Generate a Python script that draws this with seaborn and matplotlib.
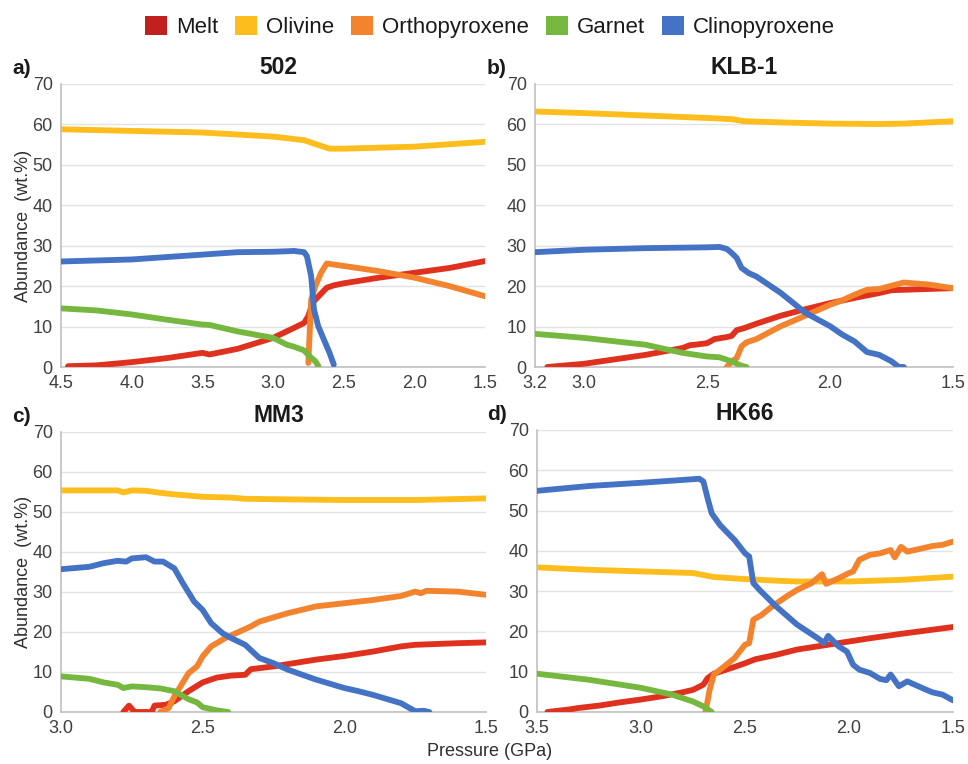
import matplotlib
matplotlib.use("Agg")
import matplotlib.pyplot as plt
import seaborn as sns
import pandas as pd
from matplotlib.patches import Patch

sns.set_theme(style="white")
plt.rcParams['font.family'] = ['Liberation Sans', 'DejaVu Sans']

phases = ["Melt", "Olivine", "Orthopyroxene", "Garnet", "Clinopyroxene"]
colors = ["#e0301e", "#fdbd1c", "#f4832e", "#76b83f", "#4472c4"]
legend_colors = ["#c0211f", "#fdbd1c", "#f4832e", "#76b83f", "#4472c4"]

# ---- Panel a) 502 ----
a_melt_p = [4.45, 4.25, 4.0, 3.75, 3.5, 3.45, 3.25, 3.0, 2.85, 2.78, 2.75, 2.72, 2.68, 2.62, 2.57, 2.5, 2.25, 2.0, 1.75, 1.5]
a_melt_v = [0.2, 0.4, 1.2, 2.2, 3.5, 3.1, 4.5, 7.2, 9.7, 10.9, 12.6, 15.9, 17.4, 19.6, 20.2, 20.7, 22.1, 23.3, 24.5, 26.2]
a_oli_p = [4.5, 3.5, 3.0, 2.78, 2.73, 2.6, 2.5, 2.0, 1.5]
a_oli_v = [58.8, 58.0, 57.0, 56.1, 55.5, 54.0, 54.0, 54.5, 55.7]
a_opx_p = [2.75, 2.73, 2.7, 2.66, 2.62, 2.5, 2.25, 2.0, 1.75, 1.5]
a_opx_v = [1.0, 16.7, 20.0, 23.3, 25.6, 25.0, 23.7, 22.1, 20.0, 17.5]
a_grt_p = [4.5, 4.25, 4.0, 3.75, 3.5, 3.45, 3.25, 3.0, 2.9, 2.85, 2.78, 2.74, 2.7, 2.68]
a_grt_v = [14.5, 14.0, 13.0, 11.7, 10.5, 10.4, 8.8, 7.2, 5.5, 5.0, 4.1, 2.6, 1.4, 0.3]
a_cpx_p = [4.5, 4.0, 3.75, 3.5, 3.25, 3.0, 2.85, 2.78, 2.76, 2.73, 2.71, 2.68, 2.65, 2.6, 2.57]
a_cpx_v = [26.1, 26.6, 27.2, 27.8, 28.4, 28.5, 28.7, 28.4, 27.4, 22.5, 14.2, 10.1, 7.6, 3.5, 0.6]

# ---- Panel b) KLB-1 ----
b_melt_p = [3.15, 3.0, 2.75, 2.6, 2.57, 2.55, 2.5, 2.47, 2.42, 2.4, 2.38, 2.35, 2.3, 2.2, 2.1, 2.0, 1.9, 1.8, 1.75, 1.7, 1.5]
b_melt_v = [0.0, 0.8, 3.0, 4.7, 5.4, 5.5, 5.9, 6.9, 7.4, 7.7, 9.1, 9.6, 10.7, 12.7, 14.3, 15.8, 17.1, 18.3, 19.0, 19.1, 19.5]
b_oli_p = [3.2, 3.0, 2.75, 2.5, 2.4, 2.35, 2.2, 2.0, 1.8, 1.7, 1.5]
b_oli_v = [63.2, 62.8, 62.2, 61.6, 61.3, 60.8, 60.5, 60.2, 60.1, 60.2, 60.8]
b_opx_p = [2.42, 2.4, 2.38, 2.36, 2.34, 2.3, 2.2, 2.1, 2.0, 1.95, 1.9, 1.85, 1.8, 1.75, 1.7, 1.6, 1.5]
b_opx_v = [0.0, 1.4, 2.2, 5.1, 6.1, 6.9, 10.1, 12.7, 15.4, 16.5, 17.9, 19.1, 19.3, 20.1, 20.9, 20.4, 19.5]
b_grt_p = [3.2, 3.0, 2.75, 2.6, 2.5, 2.45, 2.4, 2.36, 2.34]
b_grt_v = [8.2, 7.2, 5.5, 3.5, 2.6, 2.4, 1.4, 0.3, 0.0]
b_cpx_p = [3.2, 3.0, 2.75, 2.5, 2.45, 2.42, 2.4, 2.38, 2.36, 2.33, 2.3, 2.2, 2.1, 2.0, 1.95, 1.9, 1.85, 1.8, 1.75, 1.72, 1.7]
b_cpx_v = [28.4, 29.0, 29.4, 29.6, 29.7, 29.2, 28.2, 27.0, 24.5, 23.2, 22.4, 18.3, 13.4, 10.1, 8.0, 6.3, 3.7, 3.0, 1.4, 0.0, 0.0]

# ---- Panel c) MM3 ----
c_melt_p = [2.78, 2.76, 2.74, 2.7, 2.68, 2.67, 2.63, 2.6, 2.55, 2.5, 2.45, 2.4, 2.35, 2.33, 2.25, 2.1, 2.0, 1.9, 1.8, 1.75, 1.6, 1.5]
c_melt_v = [0.0, 1.6, 0.0, 0.0, 0.0, 1.6, 1.8, 2.7, 5.2, 7.4, 8.6, 9.1, 9.3, 10.7, 11.4, 13.1, 14.0, 15.1, 16.4, 16.8, 17.2, 17.4]
c_oli_p = [3.0, 2.8, 2.78, 2.75, 2.7, 2.65, 2.6, 2.5, 2.4, 2.35, 2.25, 2.0, 1.75, 1.5]
c_oli_v = [55.4, 55.4, 54.9, 55.4, 55.3, 54.8, 54.4, 53.8, 53.6, 53.3, 53.2, 53.0, 53.0, 53.4]
c_opx_p = [2.65, 2.62, 2.6, 2.55, 2.52, 2.5, 2.47, 2.42, 2.37, 2.33, 2.3, 2.2, 2.1, 2.0, 1.9, 1.8, 1.75, 1.73, 1.71, 1.6, 1.5]
c_opx_v = [0.0, 1.0, 3.9, 9.7, 11.4, 13.9, 16.4, 18.5, 20.1, 21.4, 22.6, 24.7, 26.4, 27.2, 28.0, 29.0, 30.1, 29.7, 30.3, 30.1, 29.3]
c_grt_p = [3.0, 2.9, 2.85, 2.8, 2.78, 2.75, 2.7, 2.65, 2.6, 2.55, 2.52, 2.5, 2.45, 2.41]
c_grt_v = [8.9, 8.3, 7.4, 6.8, 6.0, 6.4, 6.2, 5.9, 5.2, 3.2, 2.4, 1.2, 0.4, 0.0]
c_cpx_p = [3.0, 2.9, 2.85, 2.8, 2.77, 2.75, 2.7, 2.67, 2.64, 2.6, 2.57, 2.53, 2.5, 2.47, 2.43, 2.4, 2.35, 2.3, 2.25, 2.2, 2.1, 2.0, 1.95, 1.9, 1.8, 1.75, 1.72, 1.7]
c_cpx_v = [35.7, 36.3, 37.2, 37.8, 37.6, 38.4, 38.7, 37.6, 37.6, 35.9, 32.2, 27.6, 25.5, 22.2, 19.7, 18.5, 16.8, 13.5, 12.2, 10.6, 8.1, 6.0, 5.2, 4.3, 2.2, 0.2, 0.3, 0.0]

# ---- Panel d) HK66 ----
d_melt_p = [3.45, 3.35, 3.3, 3.2, 3.1, 3.0, 2.9, 2.8, 2.75, 2.7, 2.68, 2.65, 2.55, 2.5, 2.45, 2.35, 2.25, 2.1, 2.0, 1.9, 1.75, 1.5]
d_melt_v = [0.0, 0.6, 1.0, 1.6, 2.4, 3.1, 3.9, 4.9, 5.5, 6.8, 8.4, 9.5, 11.2, 12.1, 13.1, 14.2, 15.5, 16.7, 17.5, 18.3, 19.4, 21.1]
d_oli_p = [3.5, 3.25, 3.0, 2.75, 2.7, 2.65, 2.5, 2.35, 2.25, 2.0, 1.75, 1.5]
d_oli_v = [35.9, 35.3, 34.9, 34.5, 34.0, 33.5, 33.0, 32.6, 32.4, 32.4, 32.8, 33.6]
d_opx_p = [2.69, 2.67, 2.65, 2.6, 2.55, 2.5, 2.48, 2.46, 2.42, 2.37, 2.3, 2.25, 2.18, 2.13, 2.11, 2.05, 2.0, 1.98, 1.95, 1.9, 1.85, 1.8, 1.78, 1.75, 1.72, 1.65, 1.6, 1.55, 1.5]
d_opx_v = [0.0, 5.5, 9.3, 11.3, 13.4, 16.7, 17.1, 22.9, 24.1, 26.2, 28.7, 30.3, 32.0, 34.2, 31.8, 33.2, 34.5, 34.9, 37.8, 39.0, 39.4, 40.2, 38.4, 41.0, 39.8, 40.6, 41.2, 41.5, 42.3]
d_grt_p = [3.5, 3.25, 3.0, 2.85, 2.75, 2.7, 2.66]
d_grt_v = [9.5, 8.0, 6.0, 4.3, 2.6, 1.4, 0.0]
d_cpx_p = [3.5, 3.25, 3.0, 2.8, 2.72, 2.7, 2.68, 2.66, 2.62, 2.55, 2.5, 2.48, 2.46, 2.43, 2.35, 2.25, 2.15, 2.12, 2.1, 2.05, 2.01, 1.98, 1.95, 1.9, 1.85, 1.82, 1.8, 1.76, 1.72, 1.65, 1.6, 1.55, 1.5]
d_cpx_v = [54.9, 56.1, 56.9, 57.6, 57.9, 57.2, 53.1, 49.3, 46.4, 42.7, 39.4, 38.6, 32.0, 30.3, 26.2, 21.7, 18.3, 17.1, 18.9, 16.3, 15.0, 11.7, 10.5, 9.7, 8.2, 7.9, 9.3, 6.4, 7.6, 6.0, 4.9, 4.3, 2.9]

panels = [
    ("a)", "502", [(a_melt_p, a_melt_v), (a_oli_p, a_oli_v), (a_opx_p, a_opx_v), (a_grt_p, a_grt_v), (a_cpx_p, a_cpx_v)],
     (4.5, 1.5), [4.5, 4.0, 3.5, 3.0, 2.5, 2.0, 1.5]),
    ("b)", "KLB-1", [(b_melt_p, b_melt_v), (b_oli_p, b_oli_v), (b_opx_p, b_opx_v), (b_grt_p, b_grt_v), (b_cpx_p, b_cpx_v)],
     (3.2, 1.5), [3.2, 3.0, 2.5, 2.0, 1.5]),
    ("c)", "MM3", [(c_melt_p, c_melt_v), (c_oli_p, c_oli_v), (c_opx_p, c_opx_v), (c_grt_p, c_grt_v), (c_cpx_p, c_cpx_v)],
     (3.0, 1.5), [3.0, 2.5, 2.0, 1.5]),
    ("d)", "HK66", [(d_melt_p, d_melt_v), (d_oli_p, d_oli_v), (d_opx_p, d_opx_v), (d_grt_p, d_grt_v), (d_cpx_p, d_cpx_v)],
     (3.5, 1.5), [3.5, 3.0, 2.5, 2.0, 1.5]),
]

W, H = 968, 764
fig = plt.figure(figsize=(W / 100, H / 100), dpi=100)
boxes = [(61, 84, 485, 367), (535, 84, 953, 367), (61, 432, 486, 712), (537, 430, 953, 712)]
letter_px = [12, 487, 12, 487]

for (letter, title, series, xlim, xticks), (l, t, r, b), lx in zip(panels, boxes, letter_px):
    ax = fig.add_axes([l / W, (H - b) / H, (r - l) / W, (b - t) / H])
    rows = []
    for ph, (p, v) in zip(phases, series):
        for pi, vi in zip(p, v):
            rows.append({"Pressure": pi, "Abundance": vi, "Phase": ph})
    df = pd.DataFrame(rows)
    sns.lineplot(data=df, x="Pressure", y="Abundance", hue="Phase", hue_order=phases,
                 palette=colors, sort=False, estimator=None, linewidth=4.2,
                 legend=False, ax=ax, zorder=3)
    ax.set_xlim(*xlim)
    ax.set_ylim(0, 70)
    ax.set_xticks(xticks)
    ax.set_xticklabels([f"{x:.1f}" for x in xticks])
    ax.set_yticks(range(0, 71, 10))
    ax.yaxis.grid(True, color="#e3e3e3", linewidth=1.0, zorder=0)
    ax.xaxis.grid(False)
    for s in ["top", "right"]:
        ax.spines[s].set_visible(False)
    for s in ["left", "bottom"]:
        ax.spines[s].set_color("#c0c0c0")
        ax.spines[s].set_linewidth(1.2)
    ax.tick_params(axis="both", length=0, labelsize=13, labelcolor="#404040", pad=6)
    ax.set_xlabel("")
    ax.set_ylabel("")
    tx = 0.512 if l < 100 else 0.5
    ax.text(tx, 1.0 + 5 / (b - t), title, transform=ax.transAxes, fontsize=16.5,
            fontweight="bold", color="#1a1a1a", ha="center", va="bottom")
    ax.text(lx / W, 1 - (t - 16) / H, letter, transform=fig.transFigure,
            fontsize=15, fontweight="bold", color="#1a1a1a", ha="left", va="center")
    if l < 100:
        ax.set_ylabel("Abundance  (wt.%)", fontsize=13, color="#303030", labelpad=0)

fig.text(490 / W, 1 - 752 / H, "Pressure (GPa)", ha="center", va="center", fontsize=13, color="#303030")

handles = [Patch(facecolor=c, edgecolor="none", label=p) for p, c in zip(phases, legend_colors)]
fig.legend(handles=handles, loc="center", bbox_to_anchor=(490 / W, 1 - 27 / H), ncol=5, frameon=False,
           fontsize=16, handlelength=1.0, handleheight=0.95, handletextpad=0.4, columnspacing=0.75,
           labelcolor="#1a1a1a")

fig.savefig("out.png", dpi=100, facecolor="white")
